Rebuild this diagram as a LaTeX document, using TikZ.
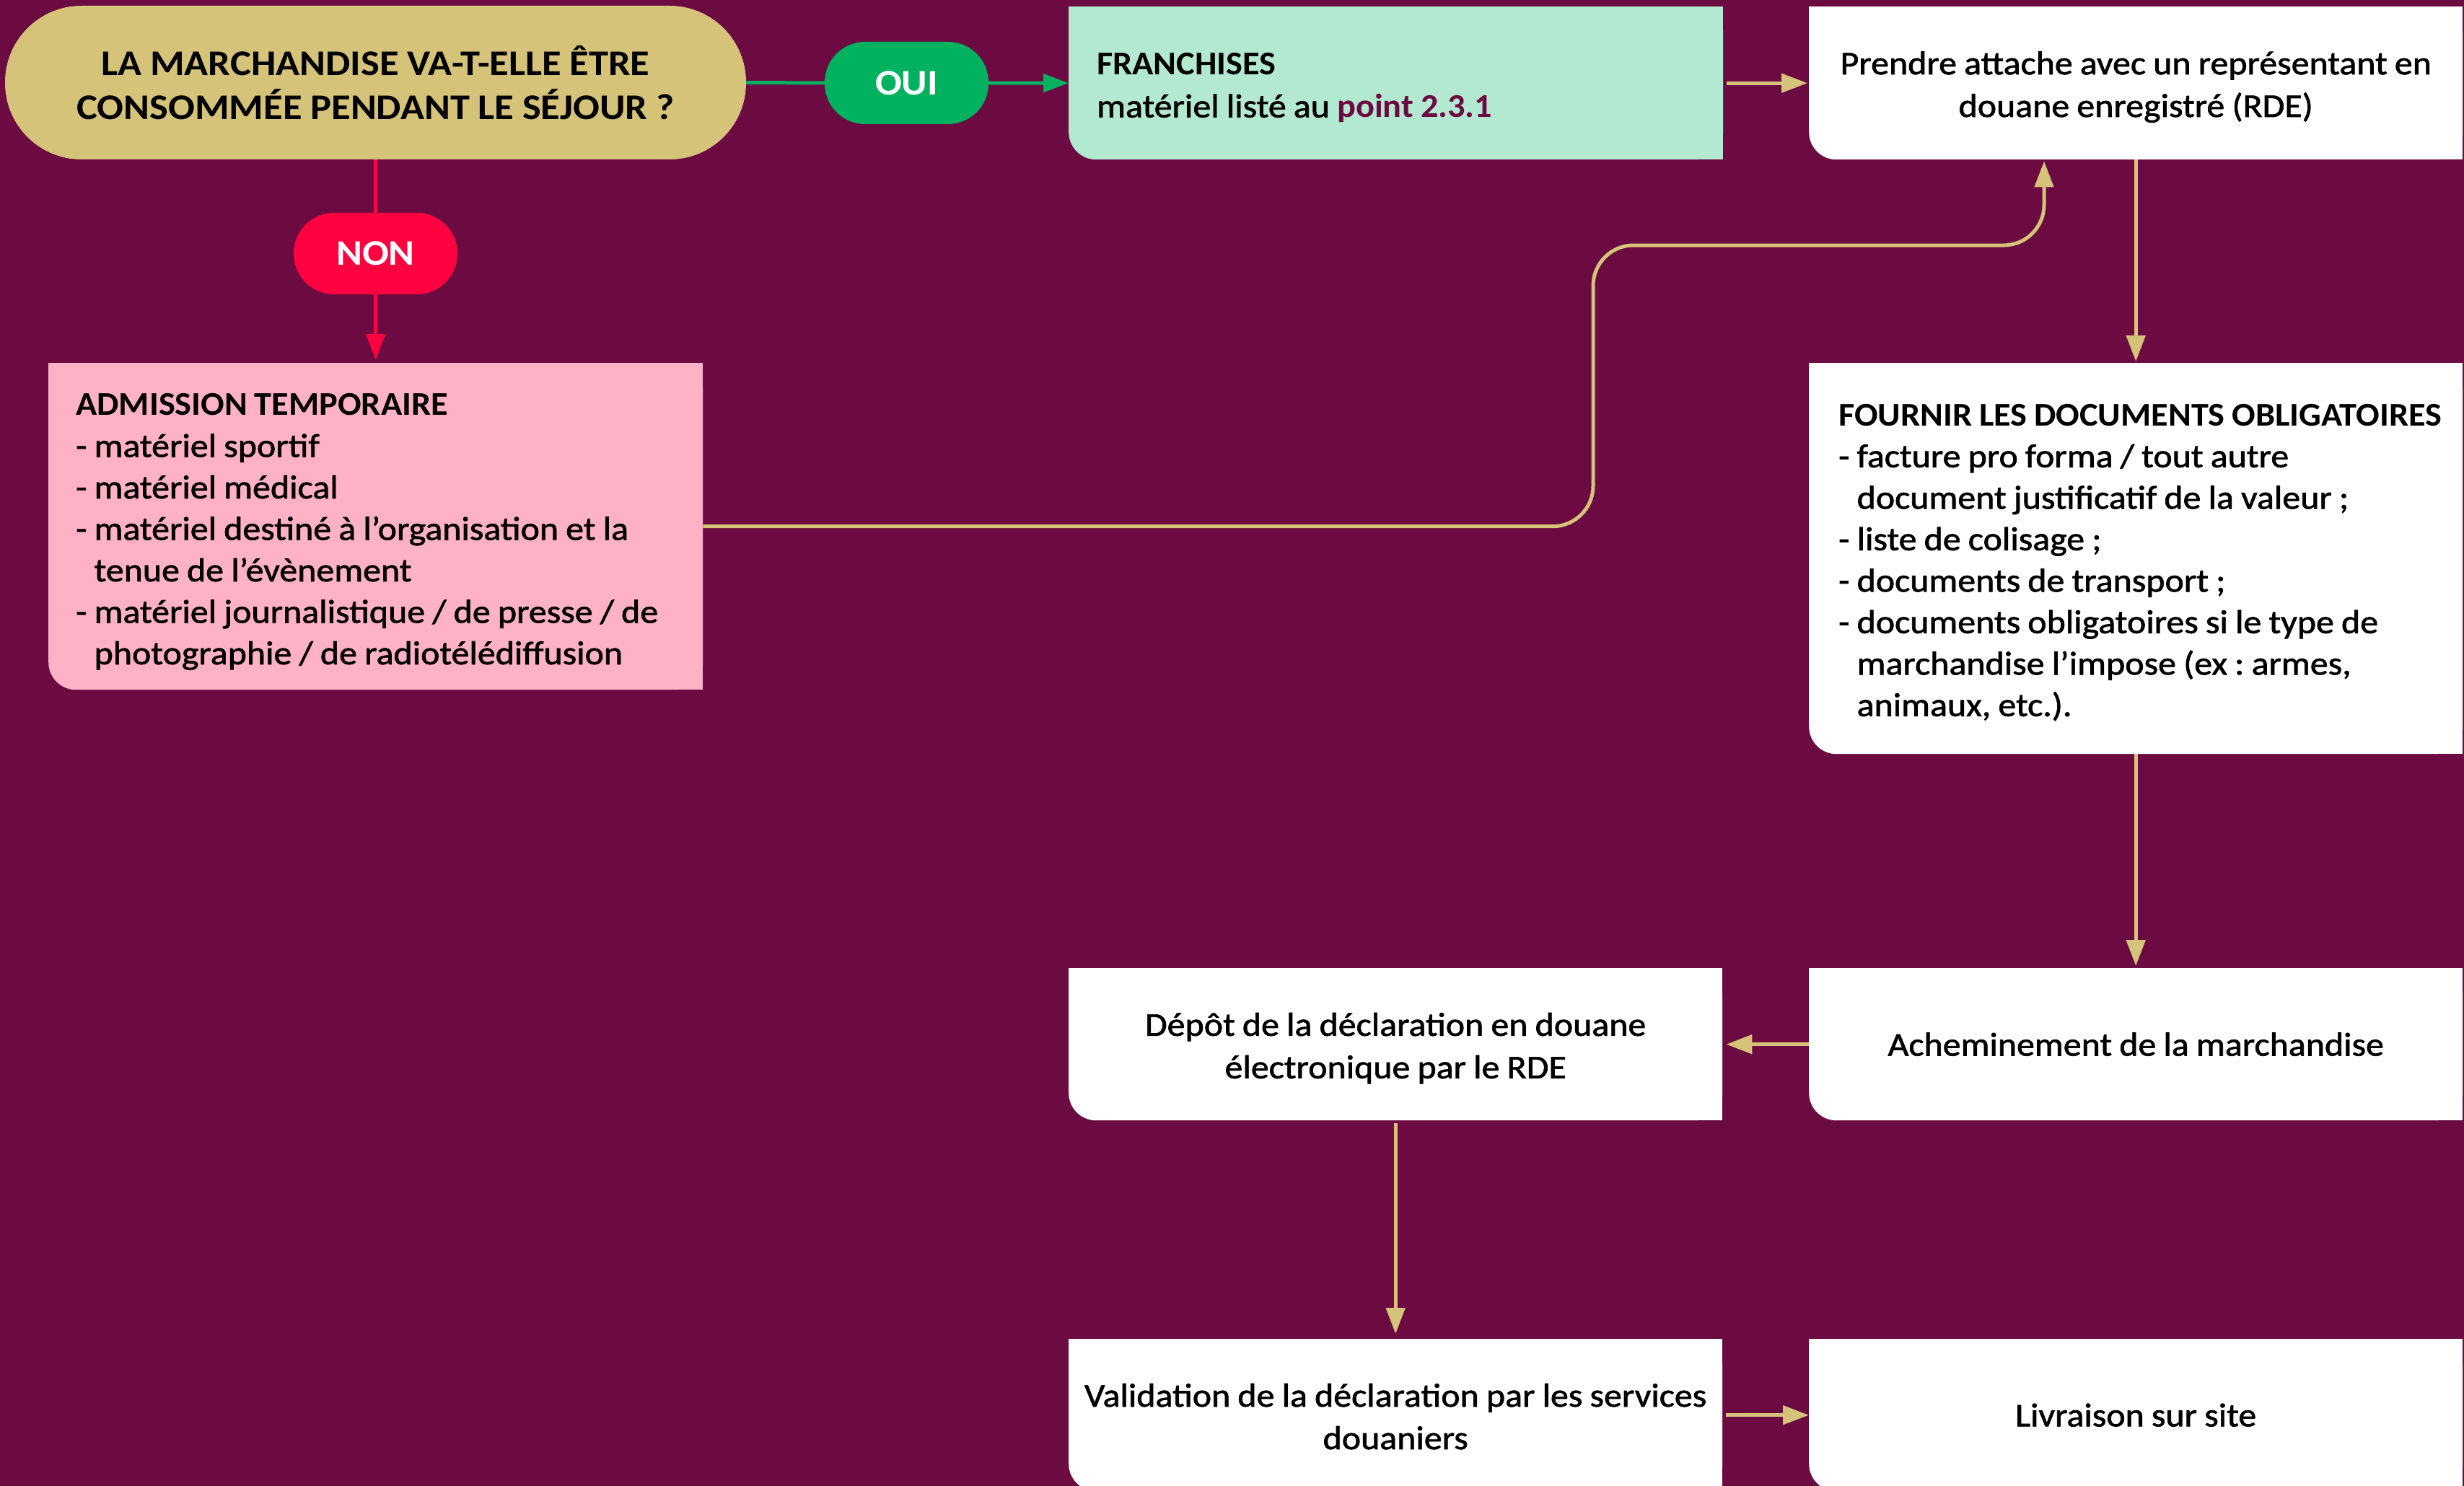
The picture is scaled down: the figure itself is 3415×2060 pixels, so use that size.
\documentclass[tikz,border=0pt]{standalone}
\usepackage{fontspec}
\setmainfont{Carlito}[WordSpace=0.9, UprightFeatures={FakeStretch=1.085, FakeBold=1.5}, BoldFeatures={FakeStretch=1.05}]
\newfontfamily\pillfam{Carlito}[WordSpace=0.95, BoldFeatures={FakeStretch=1.09}]
\usetikzlibrary{arrows.meta}
\definecolor{bgc}{RGB}{108,11,65}
\definecolor{gold}{RGB}{214,195,122}
\definecolor{gpill}{RGB}{0,177,96}
\definecolor{mint}{RGB}{179,233,208}
\definecolor{rpill}{RGB}{255,0,64}
\definecolor{pinkbox}{RGB}{255,177,197}
\pgfdeclarelayer{bgl}
\pgfdeclarelayer{patch}
\pgfsetlayers{bgl,patch,main}
\frenchspacing
\newcommand\bodyfont{\fontsize{46}{59}\selectfont\frenchspacing}
\newcommand\listfont{\fontsize{46}{57.5}\selectfont\frenchspacing}
\newcommand\pillfont{\pillfam\fontsize{50}{61}\selectfont\bfseries}
\newcommand\li[1]{-\ #1}
\newcommand\lc[1]{\hphantom{-\ }#1}
\newcommand\sqcorners[2]{%
  \begin{pgfonlayer}{patch}
  \fill[#2] (#1.north west) rectangle ([yshift=40pt]#1.south east);
  \fill[#2] ([xshift=40pt]#1.south west) rectangle (#1.north east);
  \end{pgfonlayer}}
\tikzset{
  boxshape/.style={rectangle, rounded corners=38pt, anchor=north west, inner sep=0pt,
    minimum width=906pt, minimum height=211pt},
  txt/.style={inner sep=0pt, font=\bodyfont, text=black, align=center},
  txtl/.style={txt, align=left, anchor=west},
  pill/.style={rectangle, rounded corners=56pt, inner sep=0pt, font=\pillfont},
  garr/.style={draw=gold, line width=5pt, -{Triangle[length=36pt,width=26pt]}},
  greenarr/.style={draw=gpill, line width=5pt, -{Triangle[length=35pt,width=25pt]}},
  redarr/.style={draw=rpill, line width=5pt, -{Triangle[length=36pt,width=26pt]}},
}
\begin{document}
\begin{tikzpicture}[x=1pt,y=-1pt]
\useasboundingbox (0,0) rectangle (3415,2060);
\begin{pgfonlayer}{bgl}
\fill[bgc] (0,0) rectangle (3415,2060);
\end{pgfonlayer}

% decision pill
\node[pill, rounded corners=106pt, fill=gold, minimum width=1027pt, minimum height=213pt, align=center, text=black]
  (q) at (520.5,114.5) {LA MARCHANDISE VA-T-ELLE ÊTRE\\CONSOMMÉE PENDANT LE SÉJOUR ?};
\node[pill, fill=gpill, minimum width=227pt, minimum height=114pt, text=white] (oui) at (1256.5,115) {OUI};
\node[pill, fill=rpill, minimum width=227pt, minimum height=113pt, text=white] (non) at (520.5,351.5) {NON};

% boxes
\node[boxshape, fill=mint, minimum width=907pt, minimum height=212pt] (fr) at (1481,9) {};
\node[boxshape, fill=white, minimum height=212pt] (pr) at (2507,9) {};
\node[boxshape, fill=pinkbox, minimum width=907pt, minimum height=453pt] (adm) at (67,503) {};
\node[boxshape, fill=white, minimum height=542pt] (fo) at (2507,503) {};
\node[boxshape, fill=white] (ac) at (2507,1342) {};
\node[boxshape, fill=white] (de) at (1481,1342) {};
\node[boxshape, fill=white] (va) at (1481,1856) {};
\node[boxshape, fill=white] (li) at (2507,1856) {};

\sqcorners{fr}{mint}
\sqcorners{pr}{white}
\sqcorners{adm}{pinkbox}
\sqcorners{fo}{white}
\sqcorners{ac}{white}
\sqcorners{de}{white}
\sqcorners{va}{white}
\sqcorners{li}{white}

% texts
\node[txtl] (frt) at ([xshift=39pt,yshift=-6.5pt]fr.west)
  {\textbf{FRANCHISES}\\matériel listé au \textbf{\textcolor{bgc}{point 2.3.1}}};
\node[txt] (prt) at ([yshift=-5.4pt]pr.center)
  {Prendre attache avec un représentant en\\douane enregistré (RDE)};
\node[txtl, font=\listfont] (admt) at ([xshift=38pt,yshift=-7.6pt]adm.west)
  {\textbf{ADMISSION TEMPORAIRE}\\\li{matériel sportif}\\\li{matériel médical}\\
   \li{matériel destiné à l’organisation et la}\\\lc{tenue de l’évènement}\\
   \li{matériel journalistique / de presse / de}\\\lc{photographie / de radiotélédiffusion}};
\node[txtl, font=\listfont] (fot) at ([xshift=41pt,yshift=-5.4pt]fo.west)
  {\textbf{FOURNIR LES DOCUMENTS OBLIGATOIRES}\\\li{facture pro forma / tout autre}\\
   \lc{document justificatif de la valeur ;}\\\li{liste de colisage ;}\\\li{documents de transport ;}\\
   \li{documents obligatoires si le type de}\\\lc{marchandise l’impose (ex : armes,}\\\lc{animaux, etc.).}};
\node[txt] (act) at (ac.center) {Acheminement de la marchandise};
\node[txt] (det) at ([yshift=-5.4pt]de.center) {Dépôt de la déclaration en douane\\électronique par le RDE};
\node[txt] (vat) at ([yshift=-2pt]va.center) {Validation de la déclaration par les services\\douaniers};
\node[txt] (lit) at (li.center) {Livraison sur site};

% connectors
\draw[gpill, line width=5pt] (q.east) -- (oui.west);
\draw[greenarr] (oui.east) -- (fr.west);
\draw[rpill, line width=5pt] (q.south) -- (non.north);
\draw[redarr, shorten >=4pt] (non.south) -- (adm.north);
\draw[garr, shorten <=5pt, shorten >=2pt] (fr.east) -- (pr.west);
\draw[garr, shorten >=2pt] (pr.south) -- (fo.north);
\coordinate (bend) at (2208,340);
\coordinate (tgt) at ([xshift=326pt]pr.south west);
\draw[garr, rounded corners=56pt, shorten >=2pt] (adm.east) -| (bend) -| (tgt);
\draw[garr, shorten >=3pt] (fo.south) -- (ac.north);
\draw[garr, shorten >=5pt] (ac.west) -- (de.east);
\draw[garr, shorten <=4pt, shorten >=7pt] (de.south) -- (va.north);
\draw[garr, shorten <=5pt] (va.east) -- (li.west);
\end{tikzpicture}
\end{document}
